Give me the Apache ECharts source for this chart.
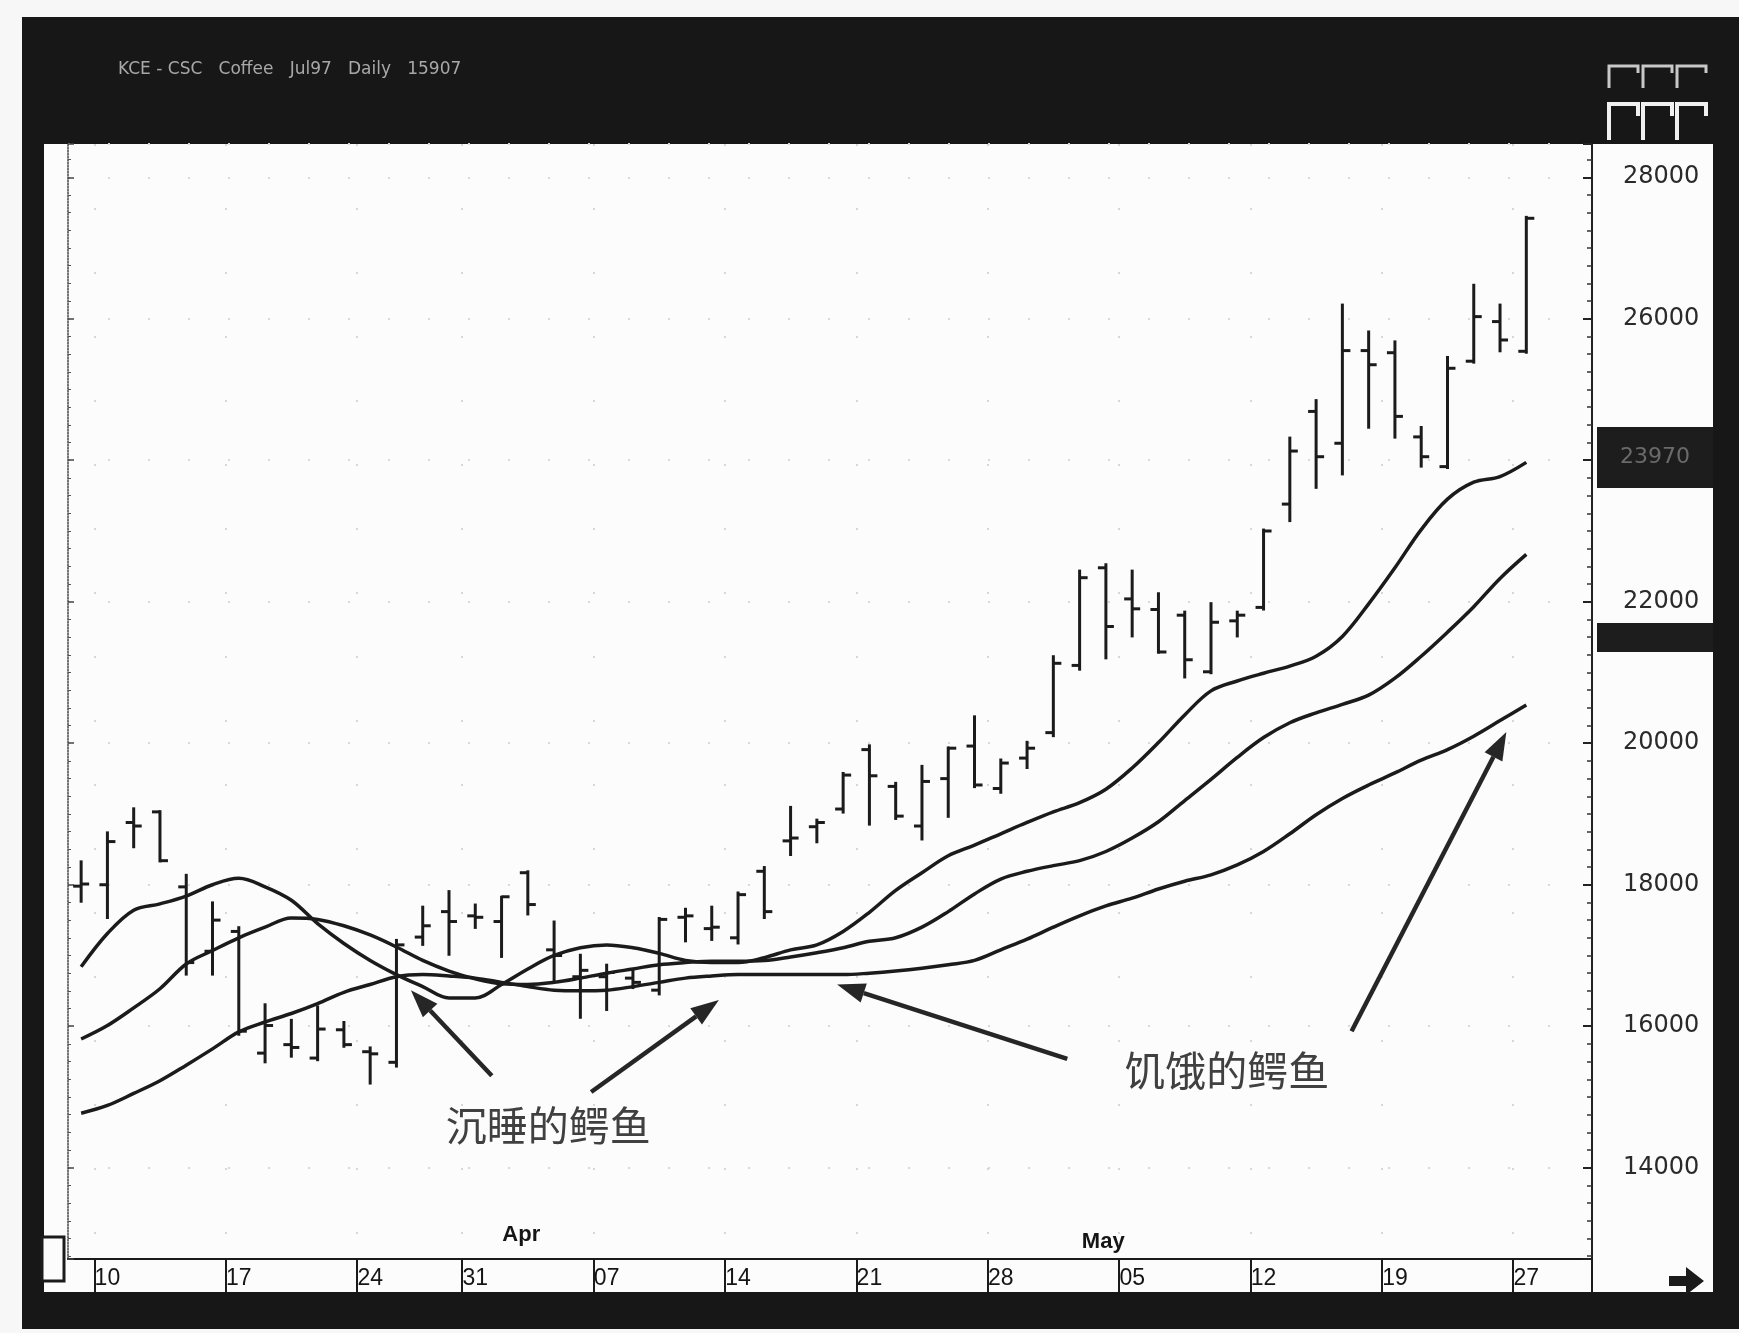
<!DOCTYPE html>
<html>
<head>
<meta charset="utf-8">
<title>Coffee Jul97 Daily</title>
<script src="https://cdn.jsdelivr.net/npm/echarts@6/dist/echarts.min.js"></script>
<style>
  html, body { margin: 0; padding: 0; background: #fff; }
  #chart { width: 1739px; height: 1333px; }
</style>
</head>
<body>
<div id="chart"></div>
<script>
// trading days, Mar 07 - May 27 1997
var days = ['03-07','03-10','03-11','03-12','03-13','03-14','03-17','03-18','03-19','03-20','03-21',
  '03-24','03-25','03-26','03-27','03-31','04-01','04-02','04-03','04-04','04-07','04-08','04-09','04-10','04-11',
  '04-14','04-15','04-16','04-17','04-18','04-21','04-22','04-23','04-24','04-25','04-28','04-29','04-30','05-01','05-02',
  '05-05','05-06','05-07','05-08','05-09','05-12','05-13','05-14','05-15','05-16','05-19','05-20','05-21','05-22','05-23','05-27'];
// first day of each week -> labelled ticks
var weekStarts = ['03-10','03-17','03-24','03-31','04-07','04-14','04-21','04-28','05-05','05-12','05-19','05-27'];

var opens  = [17980,18000,18880,19030,17970,17060,17340,15620,15740,15550,15950,15640,15490,17260,17620,17560,17480,18170,17080,16700,
  16700,16680,16510,17540,17380,17250,18190,18620,18820,19070,19910,19390,18830,19500,19960,19360,19790,20150,21100,22480,
  22040,21890,21810,21010,21730,21920,23380,24690,24240,25550,25520,24330,23910,25400,25960,25540];
var highs  = [18330,18740,19080,19040,18140,17750,17400,16310,16090,16280,16060,15700,17220,17690,17910,17720,17830,18190,17480,17010,
  16870,16790,17530,17660,17690,17890,18250,19100,18920,19580,19970,19440,19680,19940,20380,19770,20020,21230,22440,22530,
  22440,22120,21860,21980,21860,23020,24320,24850,26200,25820,25680,24470,25460,26480,26200,27440];
var lows   = [17760,17530,18530,18330,16730,16730,15880,15490,15570,15520,15710,15190,15430,17150,17010,17390,16980,17580,16640,16120,
  16230,16540,16450,17200,17220,17170,17530,18420,18600,19020,18850,18930,18640,18960,19380,19300,19650,20100,21040,21200,
  21510,21280,20930,20990,21510,21890,23140,23610,23800,24460,24320,23910,23890,25380,25540,25520];
var closes = [18010,18610,18830,18340,16900,17500,15930,16010,15700,15960,15740,15610,17150,17420,17480,17540,17830,17720,17000,16790,
  16760,16620,17510,17560,17400,17860,17620,18660,18880,19550,19540,18970,19460,19930,19410,19720,19930,21130,22340,21650,
  21900,21290,21180,21710,21810,23000,24130,24050,25550,25350,24620,24050,25300,26030,25700,27420];

// alligator lines
var lips  = [16840,17310,17640,17730,17840,18000,18090,17970,17780,17450,17170,16930,16730,16560,16400,16400,16590,16810,17000,17110,
  17150,17110,17030,16930,16900,16900,16970,17080,17150,17340,17610,17920,18170,18410,18560,18720,18880,19030,19160,19350,
  19650,20010,20400,20740,20880,20990,21090,21230,21510,21970,22480,23020,23450,23690,23770,23970];
var teeth = [15820,16010,16260,16530,16880,17070,17250,17400,17530,17510,17420,17290,17120,16930,16780,16670,16600,16590,16620,16680,
  16750,16810,16870,16900,16920,16920,16930,16980,17040,17110,17200,17250,17400,17620,17870,18080,18190,18270,18340,18470,
  18660,18890,19190,19490,19800,20080,20290,20430,20550,20680,20920,21230,21570,21930,22330,22670];
var jaw   = [14770,14880,15050,15230,15450,15680,15920,16060,16180,16320,16480,16590,16700,16730,16710,16680,16620,16560,16510,16500,
  16510,16560,16620,16680,16710,16730,16730,16730,16730,16730,16750,16780,16820,16870,16930,17080,17230,17400,17560,17700,
  17810,17940,18050,18140,18280,18470,18720,18990,19220,19410,19580,19760,19910,20100,20320,20540];

var ink = '#1b1b1b';
var chart = echarts.init(document.getElementById('chart'));

function isWeekStart(idx, val) {
  return weekStarts.indexOf(val) >= 0;
}

function renderOhlc(params, api) {
  var i = api.value(0);
  var x = api.coord([i, api.value(2)])[0];
  var yo = api.coord([i, api.value(1)])[1];
  var yh = api.coord([i, api.value(2)])[1];
  var yl = api.coord([i, api.value(3)])[1];
  var yc = api.coord([i, api.value(4)])[1];
  var st = { stroke: ink, lineWidth: 3 };
  return {
    type: 'group',
    children: [
      { type: 'line', shape: { x1: x, y1: yh - 1, x2: x, y2: yl + 1 }, style: st },
      { type: 'line', shape: { x1: x - 8, y1: yo, x2: x, y2: yo }, style: st },
      { type: 'line', shape: { x1: x, y1: yc, x2: x + 8, y2: yc }, style: st }
    ]
  };
}

function lineSeries(name, vals) {
  return {
    name: name,
    type: 'line',
    data: vals,
    smooth: 0.35,
    symbol: 'none',
    lineStyle: { color: ink, width: 3.5 },
    z: 3
  };
}

var option = {
  backgroundColor: '#171717',
  animation: false,
  grid: { left: 68, right: 147, top: 144, bottom: 74 },
  xAxis: {
    type: 'category',
    data: days.concat(['', '']),
    boundaryGap: true,
    axisLine: { lineStyle: { color: ink, width: 2 } },
    axisTick: { show: true, length: 33, interval: isWeekStart, lineStyle: { color: ink, width: 2 } },
    axisLabel: {
      interval: isWeekStart,
      formatter: function (v) { return v.slice(3); },
      margin: 8,
      fontSize: 23,
      color: '#151515',
      fontFamily: 'Liberation Sans'
    },
    splitLine: { show: true, interval: isWeekStart, lineStyle: { color: '#d6d6d6', width: 2, type: [2, 62] } }
  },
  yAxis: [
    {
      type: 'value',
      position: 'right',
      min: 12710,
      max: 28470,
      splitNumber: 8,
      axisLine: { show: true, lineStyle: { color: '#222', width: 2 } },
      axisTick: { show: true, inside: true, length: 9, lineStyle: { color: '#222', width: 2 } },
      minorTick: { show: true, splitNumber: 8, length: 5, lineStyle: { color: '#333', width: 1.5 } },
      axisLabel: {
        showMinLabel: false,
        showMaxLabel: false,
        formatter: function (v) { return String(v); },
        margin: 31,
        fontSize: 24,
        color: '#2a2a2a',
        fontFamily: 'DejaVu Sans'
      },
      splitLine: { show: true, lineStyle: { color: '#d9d9d9', width: 2, type: [2, 38] } }
    },
    {
      type: 'value',
      position: 'left',
      min: 12710,
      max: 28470,
      splitNumber: 8,
      axisLine: { show: true, lineStyle: { color: '#444', width: 1.5, type: 'dotted' } },
      axisTick: { show: true, inside: true, length: 6, lineStyle: { color: '#444', width: 1.5 } },
      minorTick: { show: true, splitNumber: 8, length: 3, lineStyle: { color: '#555' } },
      axisLabel: { show: false },
      splitLine: { show: false }
    }
  ],
  series: [
    {
      name: 'Coffee Jul97',
      type: 'custom',
      renderItem: renderOhlc,
      yAxisIndex: 0,
      encode: { x: 0, y: [1, 2, 3, 4] },
      data: days.map(function (d, i) { return [i, opens[i], highs[i], lows[i], closes[i]]; }),
      z: 4
    },
    lineSeries('lips', lips),
    lineSeries('teeth', teeth),
    lineSeries('jaw', jaw)
  ]
};
chart.setOption(option);

// pixel position for a (possibly fractional) bar index and price
function toPx(idx, val) {
  var i0 = Math.floor(idx);
  var a = chart.convertToPixel({ xAxisIndex: 0, yAxisIndex: 0 }, [i0, val]);
  var b = chart.convertToPixel({ xAxisIndex: 0, yAxisIndex: 0 }, [i0 + 1, val]);
  return [a[0] + (idx - i0) * (b[0] - a[0]), a[1]];
}

function arrow(from, to) {
  var p = toPx(from[0], from[1]);
  var q = toPx(to[0], to[1]);
  var ang = Math.atan2(q[1] - p[1], q[0] - p[0]);
  var len = 28, half = 10;
  var bx = q[0] - len * Math.cos(ang), by = q[1] - len * Math.sin(ang);
  var nx = -Math.sin(ang) * half, ny = Math.cos(ang) * half;
  return [
    { type: 'line', z: 30, shape: { x1: p[0], y1: p[1], x2: bx, y2: by }, style: { stroke: '#262626', lineWidth: 4.5 } },
    { type: 'polygon', z: 30, shape: { points: [[q[0], q[1]], [bx + nx, by + ny], [bx - nx, by - ny]] }, style: { fill: '#262626' } }
  ];
}

function note(at, text) {
  var p = toPx(at[0], at[1]);
  return {
    type: 'text', z: 30, x: p[0], y: p[1],
    style: { text: text, fill: '#404040', font: '41px "Noto Sans CJK SC"', align: 'center', verticalAlign: 'middle' }
  };
}

function monthLabel(idx, text, y) {
  var p = toPx(idx, 20000);
  return {
    type: 'text', z: 30, x: p[0], y: y,
    style: { text: text, fill: '#151515', font: 'bold 22px "Liberation Sans"', align: 'center', verticalAlign: 'bottom' }
  };
}

var g = [
  // paper around the scanned frame
  { type: 'rect', z: -10, shape: { x: 0, y: 0, width: 1739, height: 17 }, style: { fill: '#f7f7f7' } },
  { type: 'rect', z: -10, shape: { x: 0, y: 0, width: 22, height: 1333 }, style: { fill: '#f7f7f7' } },
  { type: 'rect', z: -10, shape: { x: 0, y: 1329, width: 1739, height: 4 }, style: { fill: '#f7f7f7' } },
  // white chart area, label row and right price panel
  { type: 'rect', z: -10, shape: { x: 44, y: 144, width: 1669, height: 1148 }, style: { fill: '#fcfcfc' } },
  // price markers on the right panel
  { type: 'rect', z: 40, shape: { x: 1597, y: 427, width: 116, height: 61 }, style: { fill: '#1d1d1d' } },
  { type: 'text', z: 41, x: 1655, y: 457, style: { text: '23970', fill: '#6a6a6a', font: '22px "DejaVu Sans"', align: 'center', verticalAlign: 'middle' } },
  { type: 'rect', z: 40, shape: { x: 1597, y: 623, width: 116, height: 29 }, style: { fill: '#1d1d1d' } },
  // header text
  { type: 'text', z: 41, x: 118, y: 70, style: { text: 'KCE - CSC   Coffee   Jul97   Daily   15907', fill: '#a8a8a8', font: '17px "DejaVu Sans"', verticalAlign: 'middle' } },
  // small box at lower left and scroll arrow at lower right
  { type: 'rect', z: 40, shape: { x: 42, y: 1237, width: 22, height: 44 }, style: { fill: '#fcfcfc', stroke: ink, lineWidth: 3 } },
  { type: 'polygon', z: 40, shape: { points: [[1669, 1276], [1686, 1276], [1686, 1267], [1704, 1281], [1686, 1295], [1686, 1286], [1669, 1286]] }, style: { fill: ink } },
  monthLabel(16.75, 'Apr', 1246),
  monthLabel(38.9, 'May', 1253),
  note([17.78, 14600], '沉睡的鳄鱼'),
  note([43.6, 15380], '饥饿的鳄鱼')
];
// toolbar icons at the top right
for (var k = 0; k < 3; k++) {
  var x0 = 1609 + 34 * k;
  g.push({ type: 'polyline', z: 41, shape: { points: [[x0, 88], [x0, 66], [x0 + 29, 66], [x0 + 29, 73]] }, style: { stroke: '#c8c8c8', lineWidth: 3, fill: null } });
  g.push({ type: 'polyline', z: 41, shape: { points: [[x0, 140], [x0, 104], [x0 + 29, 104], [x0 + 29, 116]] }, style: { stroke: '#f0f0f0', lineWidth: 4, fill: null } });
}
g = g.concat(arrow([15.63, 15300], [12.55, 16510]));
g = g.concat(arrow([19.41, 15070], [24.27, 16370]));
g = g.concat(arrow([37.53, 15540], [28.77, 16590]));
g = g.concat(arrow([48.35, 15930], [54.24, 20160]));

chart.setOption({ graphic: g });
</script>
</body>
</html>
